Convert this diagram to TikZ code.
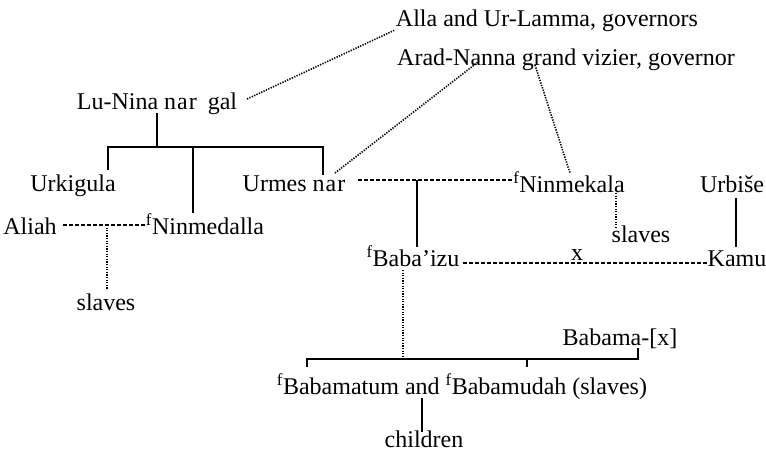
\documentclass[tikz,border=0pt]{standalone}
\usepackage{fontspec}
\setmainfont{Liberation Serif}
\begin{document}
\begin{tikzpicture}[x=1pt,y=-1pt,
  lbl/.style={anchor=base,inner sep=0pt,font=\fontsize{24}{28}\selectfont},
  solidline/.style={line width=1.5pt},
  dashline/.style={line width=1.3pt,dash pattern=on 4pt off 2pt},
  dotline/.style={line width=1.6pt,dash pattern=on 1.3pt off 1.3pt}]
\useasboundingbox (0,0) rectangle (766,454);
% labels
\node[lbl] (alla) at (547,27) {Alla and Ur-Lamma, governors};
\node[lbl] (arad) at (566,66) {Arad-Nanna grand vizier, governor};
\node[lbl] (lunina) at (157,110) {Lu-Nina n\kern1pt a\kern1pt r\hspace{5pt} gal};
\node[lbl] (urkigula) at (73,192) {Urkigula};
\node[lbl] (urmes) at (294,192) {Urmes n\kern1pt a\kern1pt r};
\node[lbl] (ninmekala) at (569,193) {\textsuperscript{f}Ninmekala};
\node[lbl] (urbise) at (732,193) {Urbiše};
\node[lbl] (aliah) at (30,235) {Aliah};
\node[lbl] (ninmedalla) at (205,235) {\textsuperscript{f}Ninmedalla};
\node[lbl] (slavesL) at (106,311) {slaves};
\node[lbl] (slavesR) at (641,243) {slaves};
\node[lbl] (babaizu) at (413,267) {\textsuperscript{f}Baba’izu};
\node[lbl] (kamu) at (737,267) {Kamu};
\node[lbl] (xmark) at (577,261) {x};
\node[lbl] (babama) at (620,345) {Babama-[x]};
\node[lbl] (babamatum) at (462,395) {\textsuperscript{f}Babamatum and \textsuperscript{f}Babamudah (slaves)};
\node[lbl] (children) at (424,447) {children};
% anchor points
\coordinate (luE) at (247,99);
\coordinate (allaW) at (395,30);
\coordinate (luS) at (157,113);
\coordinate (t1) at (157,147);
\coordinate (t1L) at (108,147);
\coordinate (t1M) at (193,147);
\coordinate (t1R) at (323,147);
\coordinate (urkN) at (108,170);
\coordinate (ninmedN) at (193,213);
\coordinate (urmesN) at (323,175);
\coordinate (urmesNE) at (335,173);
\coordinate (aradP) at (478,62);
\coordinate (grandP) at (535,65);
\coordinate (ninmekN) at (570,173);
\coordinate (urmesE) at (358,180);
\coordinate (ninmekW) at (512,180);
\coordinate (m1) at (417,180);
\coordinate (babaN) at (417,247);
\coordinate (ninmekS) at (616,193);
\coordinate (slavesRN) at (616,228);
\coordinate (urbS) at (736,198);
\coordinate (kamuN) at (736,247);
\coordinate (babaE) at (463,263);
\coordinate (kamuW) at (708,263);
\coordinate (babaS) at (403,270);
\coordinate (b1) at (403,359);
\coordinate (bL) at (307,359);
\coordinate (bR) at (638,359);
\coordinate (bM) at (527,359);
\coordinate (bLs) at (307,367);
\coordinate (bMs) at (527,367);
\coordinate (babamaS) at (638,348);
\coordinate (bbS) at (422,398);
\coordinate (childN) at (422,432);
\coordinate (aliahE) at (63,225);
\coordinate (ninmedW) at (147,225);
\coordinate (a1) at (107,225);
\coordinate (slavesLN) at (107,290);
% connectors
\draw[dotline] (luE) -- (allaW);
\draw[solidline] (luS) -- (t1);
\draw[solidline] (urkN) -- (t1L) -- (t1R) -- (urmesN);
\draw[solidline] (t1M) -- (ninmedN);
\draw[dotline] (urmesNE) -- (aradP);
\draw[dotline] (grandP) -- (ninmekN);
\draw[dashline] (urmesE) -- (ninmekW);
\draw[solidline] (m1) -- (babaN);
\draw[dotline] (ninmekS) -- (slavesRN);
\draw[solidline] (urbS) -- (kamuN);
\draw[dashline] (babaE) -- (kamuW);
\draw[dotline] (babaS) -- (b1);
\draw[solidline] (bLs) -- (bL) -- (bR) -- (babamaS);
\draw[solidline] (bM) -- (bMs);
\draw[solidline] (bbS) -- (childN);
\draw[dashline] (aliahE) -- (ninmedW);
\draw[dotline] (a1) -- (slavesLN);
\end{tikzpicture}
\end{document}
